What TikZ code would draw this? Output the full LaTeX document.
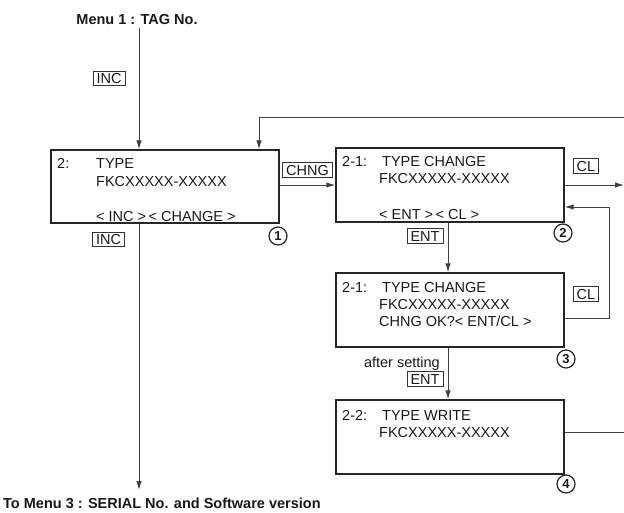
\documentclass[tikz,border=0pt]{standalone}
\usepackage{fontspec}
\setmainfont{Liberation Sans}
\usetikzlibrary{arrows.meta}

\tikzset{
  screen/.style={draw=black!85, line width=1.3pt, minimum width=228pt, inner sep=0pt},
  txt/.style={anchor=base west, inner sep=0pt, text=black!90, font=\fontsize{14.5}{17}\selectfont},
  head/.style={inner sep=0pt, text=black!90, font=\fontsize{14.5}{17}\selectfont\bfseries},
  keybox/.style={draw=black!80, line width=0.8pt, inner xsep=3.5pt, inner ysep=2pt,
    text height=10.4pt, text depth=0pt, text=black!90, font=\fontsize{14.5}{17}\selectfont},
  numc/.style={circle, draw=black!85, line width=1.2pt, minimum size=18pt, inner sep=0pt,
    text=black!90, font=\fontsize{13}{13}\selectfont\bfseries},
  flow/.style={line width=1pt, draw=black!75},
}

\begin{document}
\begin{tikzpicture}[x=1pt, y=-1pt, >={Latex[length=9pt,width=5.5pt]}]
\useasboundingbox (0,0) rectangle (624,512);

% menu entries
\node[head, anchor=base] (menu1) at (137,24.5) {Menu 1 : TAG No.};
\node[head, anchor=base west] (menu3) at (3,508) {To Menu 3 : SERIAL No. and Software version};

% screens
\node[screen, minimum height=73pt] (s1) at (165,186.5) {};
\node[screen, minimum height=74pt] (s2) at (450,185) {};
\node[screen, minimum height=74pt] (s3) at (450,310) {};
\node[screen, minimum height=74pt] (s4) at (450,437) {};

% screen 1
\node[txt] (s1n) at (57,168) {2:};
\node[txt] (s1a) at (96,168) {TYPE};
\node[txt] (s1b) at (96,186) {FKCXXXXX-XXXXX};
\node[txt] (s1c) at (96,221) {< INC >\,< CHANGE >};
% screen 2
\node[txt] (s2n) at (342,166) {2-1:};
\node[txt] (s2a) at (382,166) {TYPE CHANGE};
\node[txt] (s2b) at (379,183) {FKCXXXXX-XXXXX};
\node[txt] (s2c) at (379,219) {< ENT >\,< CL >};
% screen 3
\node[txt] (s3n) at (342,292) {2-1:};
\node[txt] (s3a) at (382,292) {TYPE CHANGE};
\node[txt] (s3b) at (379,309) {FKCXXXXX-XXXXX};
\node[txt] (s3c) at (379,326) {CHNG OK?< ENT/CL >};
% screen 4
\node[txt] (s4n) at (342,420) {2-2:};
\node[txt] (s4a) at (382,420) {TYPE WRITE};
\node[txt] (s4b) at (379,437) {FKCXXXXX-XXXXX};

% screen numbers
\node[numc] (c1) at (278,236) {1};
\node[numc] (c2) at (563,233) {2};
\node[numc] (c3) at (566,359) {3};
\node[numc] (c4) at (566,484) {4};

% keys
\node[keybox] (kinc1) at (109,78.5) {INC};
\node[keybox] (kinc2) at (108.5,239.5) {INC};
\node[keybox] (kchng) at (307.5,170) {CHNG};
\node[keybox] (kcl1) at (586,166) {CL};
\node[keybox] (kcl2) at (586,294) {CL};
\node[keybox] (kent1) at (425,236) {ENT};
\node[keybox] (kent2) at (425,379) {ENT};
\node[txt, anchor=base east] (aftset) at (440,367) {after setting};

% connectors
\coordinate (inx) at (139,0);
\coordinate (entx) at (448,0);
\coordinate (m3) at (139,490);
\coordinate (topr) at (624,117);
\coordinate (topl) at (259,117);
\coordinate (clout) at (624,185);
\coordinate (fbtop) at (609,207);
\coordinate (fbbot) at (609,318);
\coordinate (wout) at (624,432);

\draw[flow,->] (menu1.south -| inx) ++(0,3) -- (s1.north -| inx);
\draw[flow,->] (s1.south -| inx) -- (m3);
\draw[flow,->] (topr) -- (topl) -- (topl |- s1.north);
\draw[flow,->] (s1.east |- s2.west) -- (s2.west);
\draw[flow,->] (s2.east) -- (clout);
\draw[flow,->] (s3.east |- fbbot) -- (fbbot) -- (fbtop) -- (s2.east |- fbtop);
\draw[flow,->] (s2.south -| entx) -- (s3.north -| entx);
\draw[flow,->] (s3.south -| entx) -- (s4.north -| entx);
\draw[flow] (s4.east |- wout) -- (wout);
\end{tikzpicture}
\end{document}
